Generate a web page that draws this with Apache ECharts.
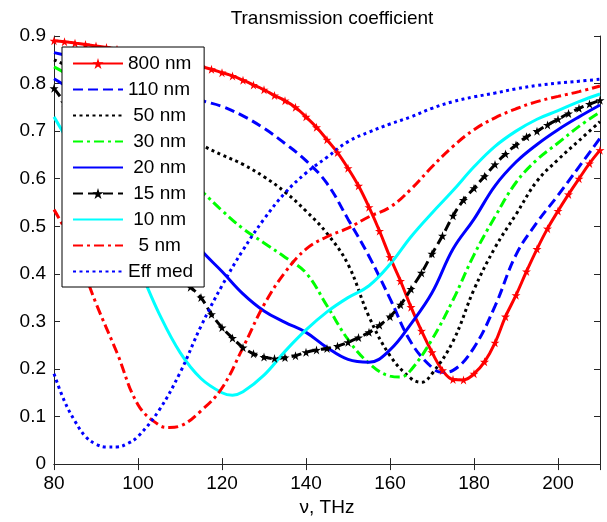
<!DOCTYPE html>
<html><head><meta charset="utf-8">
<script src="https://cdn.jsdelivr.net/npm/echarts@6/dist/echarts.min.js"></script>
<style>html,body{margin:0;padding:0;background:#fff}#c{width:607px;height:522px}</style>
</head><body><div id="c"></div>
<script>
// ---- data (frequency in THz, transmission coefficient) ----
const seriesNames = ['800 nm', '110 nm', ' 50 nm', ' 30 nm', ' 20 nm', ' 15 nm', ' 10 nm', '  5 nm', 'Eff med'];
const xTicks = [80, 100, 120, 140, 160, 180, 200];
const yTicks = [0, 0.1, 0.2, 0.3, 0.4, 0.5, 0.6, 0.7, 0.8, 0.9];

const nuFine = [80, 82.5, 85, 87.5, 90, 92.5, 95, 97.5, 100, 102.5, 105, 107.5, 110, 112.5, 115, 117.5, 120, 122.5, 125, 127.5,
  130, 132.5, 135, 137.5, 140, 142.5, 145, 147.5, 150, 152.5, 155, 157.5, 160, 162.5, 165, 167.5, 170, 172.5, 175, 177.5,
  180, 182.5, 185, 187.5, 190, 192.5, 195, 197.5, 200, 202.5, 205, 207.5, 210];
const nuCoarse = [80, 85, 90, 95, 100, 105, 110, 115, 120, 125, 130, 135, 140, 145, 150, 155, 160, 165, 170, 175, 180, 185, 190, 195, 200, 205, 210];

const t800 = [0.890, 0.888, 0.885, 0.882, 0.879, 0.876, 0.872, 0.868, 0.864, 0.860, 0.856, 0.851, 0.847, 0.842, 0.836, 0.830, 0.823, 0.816, 0.807, 0.797,
  0.787, 0.775, 0.764, 0.750, 0.730, 0.708, 0.682, 0.655, 0.622, 0.585, 0.540, 0.490, 0.435, 0.385, 0.330, 0.280, 0.235, 0.197, 0.178, 0.177,
  0.190, 0.215, 0.255, 0.310, 0.355, 0.405, 0.452, 0.495, 0.532, 0.567, 0.600, 0.632, 0.660];

const nu110 = [80, 85, 90, 95, 100, 105, 110, 115, 120, 125, 130, 135, 140, 145, 150, 155, 160, 165, 170, 172.5, 175, 180, 185, 190, 195, 200, 205, 210];
const t110 = [0.865, 0.855, 0.843, 0.830, 0.815, 0.800, 0.783, 0.765, 0.752, 0.732, 0.706, 0.674, 0.638, 0.590, 0.515, 0.437, 0.348, 0.256, 0.203, 0.193, 0.197, 0.245, 0.332, 0.440, 0.508, 0.565, 0.625, 0.685];

const nu50 = [80, 85, 90, 95, 100, 105, 110, 115, 120, 125, 130, 135, 140, 145, 150, 155, 160, 165, 167.5, 170, 175, 180, 185, 190, 195, 200, 205, 210];
const t50 = [0.850, 0.830, 0.808, 0.785, 0.760, 0.732, 0.702, 0.672, 0.650, 0.630, 0.604, 0.572, 0.532, 0.485, 0.420, 0.310, 0.228, 0.180, 0.172, 0.190, 0.258, 0.367, 0.455, 0.525, 0.595, 0.640, 0.680, 0.720];

const nu30 = [80, 85, 90, 95, 100, 105, 110, 115, 120, 125, 130, 135, 140, 145, 150, 155, 160, 162.5, 165, 170, 175, 180, 185, 190, 195, 200, 205, 210];
const t30 = [0.835, 0.810, 0.778, 0.742, 0.702, 0.658, 0.615, 0.575, 0.533, 0.495, 0.465, 0.435, 0.402, 0.333, 0.262, 0.212, 0.185, 0.183, 0.198, 0.262, 0.345, 0.440, 0.520, 0.592, 0.640, 0.675, 0.710, 0.740];

const t20 = [0.810, 0.780, 0.735, 0.680, 0.625, 0.565, 0.505, 0.450, 0.405, 0.358, 0.322, 0.298, 0.277, 0.245, 0.220, 0.214, 0.240, 0.295, 0.360, 0.452, 0.515, 0.585, 0.635, 0.672, 0.703, 0.730, 0.755];

const t15 = [0.790, 0.760, 0.725, 0.690, 0.650, 0.610, 0.570, 0.530, 0.495, 0.460, 0.430, 0.405, 0.390, 0.372, 0.350, 0.315, 0.287, 0.265, 0.245, 0.232,
  0.225, 0.222, 0.224, 0.228, 0.235, 0.240, 0.243, 0.248, 0.256, 0.266, 0.277, 0.292, 0.310, 0.335, 0.368, 0.402, 0.442, 0.480, 0.522, 0.555,
  0.580, 0.605, 0.630, 0.652, 0.671, 0.688, 0.700, 0.713, 0.725, 0.737, 0.748, 0.757, 0.765];

const nu10 = [80, 85, 90, 95, 100, 105, 110, 115, 120, 122.5, 125, 130, 135, 140, 145, 150, 155, 160, 165, 170, 175, 180, 185, 190, 195, 200, 205, 210];
const t10 = [0.730, 0.655, 0.578, 0.495, 0.415, 0.317, 0.235, 0.180, 0.150, 0.145, 0.152, 0.187, 0.237, 0.282, 0.320, 0.350, 0.375, 0.420, 0.478, 0.528, 0.575, 0.625, 0.668, 0.700, 0.725, 0.743, 0.762, 0.778];

const nu5 = [80, 85, 90, 95, 100, 105, 107.5, 110, 115, 120, 125, 130, 135, 140, 145, 150, 155, 160, 165, 170, 175, 180, 185, 190, 195, 200, 205, 210];
const t5 = [0.535, 0.452, 0.338, 0.234, 0.125, 0.082, 0.077, 0.080, 0.112, 0.160, 0.245, 0.335, 0.403, 0.452, 0.478, 0.496, 0.520, 0.540, 0.578, 0.625, 0.668, 0.703, 0.728, 0.747, 0.762, 0.773, 0.783, 0.795];

const nuEff = [80, 82.5, 85, 87.5, 90, 92.5, 95, 97.5, 100, 105, 110, 115, 120, 125, 130, 135, 140, 145, 150, 155, 160, 165, 170, 175, 180, 185, 190, 195, 200, 205, 210];
const tEff = [0.190, 0.132, 0.090, 0.058, 0.042, 0.036, 0.036, 0.043, 0.058, 0.113, 0.192, 0.290, 0.375, 0.450, 0.515, 0.570, 0.612, 0.645, 0.678, 0.698, 0.715, 0.730, 0.748, 0.762, 0.772, 0.780, 0.789, 0.796, 0.801, 0.805, 0.809];

const hasMarker = [true, false, false, false, false, true, false, false, false];

// ---- chart ----
const FONT = 'Liberation Sans, Arial, sans-serif';
const pairs = (xs, ys) => xs.map((x, i) => [x, ys[i]]);
const STAR = 'path://M0,-1L0.22,-0.3L0.95,-0.31L0.36,0.12L0.59,0.81L0,0.38L-0.59,0.81L-0.36,0.12L-0.95,-0.31L-0.22,-0.3Z';

function mk(idx, xs, ys, color, type) {
  const marker = hasMarker[idx];
  return {
    name: seriesNames[idx], type: 'line', data: pairs(xs, ys), smooth: 0.4,
    symbol: marker ? STAR : 'none', symbolSize: 9, showSymbol: marker,
    itemStyle: { color: color },
    lineStyle: { color: color, width: 3, type: type },
    emphasis: { disabled: true }, animation: false
  };
}
const DASH = [10, 5], DOT = [3, 3.5], DASHDOT = [10, 4, 3, 4];

const chart = echarts.init(document.getElementById('c'), null, { renderer: 'canvas' });
const axisLineStyle = { color: '#262626', width: 1 };
chart.setOption({
  backgroundColor: '#ffffff',
  animation: false,
  title: {
    text: 'Transmission coefficient', left: 327, top: 4, textAlign: 'center',
    textStyle: { fontFamily: FONT, fontSize: 19, fontWeight: 'normal', color: '#000' }
  },
  grid: { left: 54, right: 7, top: 36, bottom: 52, containLabel: false },
  legend: {
    orient: 'vertical', left: 62, top: 47,
    data: seriesNames.map((n, i) => hasMarker[i] ? { name: n } : { name: n, itemStyle: { opacity: 0 } }),
    itemWidth: 50, itemHeight: 14, itemGap: 7,
    padding: [7, 11, 6, 10],
    backgroundColor: '#ffffff', borderColor: '#000', borderWidth: 1, borderRadius: 0,
    textStyle: { fontFamily: FONT, fontSize: 19, color: '#000' },
    selectedMode: false
  },
  xAxis: [{
    type: 'value', min: xTicks[0], max: 210, interval: 20,
    name: 'ν, THz', nameLocation: 'middle', nameGap: 32,
    nameTextStyle: { fontFamily: FONT, fontSize: 19, color: '#000' },
    axisLine: { show: true, lineStyle: axisLineStyle },
    axisTick: { show: true, inside: true, length: 6, lineStyle: axisLineStyle },
    axisLabel: { fontFamily: FONT, fontSize: 19, color: '#000', margin: 10, showMaxLabel: false },
    splitLine: { show: false }
  }, {
    type: 'value', position: 'top', min: xTicks[0], max: 210, interval: 20,
    axisLine: { show: true, lineStyle: axisLineStyle },
    axisTick: { show: true, inside: true, length: 6, lineStyle: axisLineStyle },
    axisLabel: { show: false }, splitLine: { show: false }
  }],
  yAxis: [{
    type: 'value', min: yTicks[0], max: 0.9, interval: 0.1,
    axisLine: { show: true, lineStyle: axisLineStyle },
    axisTick: { show: true, inside: true, length: 6, lineStyle: axisLineStyle },
    axisLabel: { fontFamily: FONT, fontSize: 19, color: '#000', margin: 8 },
    splitLine: { show: false }
  }, {
    type: 'value', position: 'right', min: yTicks[0], max: 0.9, interval: 0.1,
    axisLine: { show: true, lineStyle: axisLineStyle },
    axisTick: { show: true, inside: true, length: 6, lineStyle: axisLineStyle },
    axisLabel: { show: false }, splitLine: { show: false }
  }],
  series: [
    mk(0, nuFine, t800, '#ff0000', 'solid'),
    mk(1, nu110, t110, '#0000ff', DASH),
    mk(2, nu50, t50, '#000000', DOT),
    mk(3, nu30, t30, '#00ff00', DASHDOT),
    mk(4, nuCoarse, t20, '#0000ff', 'solid'),
    mk(5, nuFine, t15, '#000000', DASH),
    mk(6, nu10, t10, '#00ffff', 'solid'),
    mk(7, nu5, t5, '#ff0000', DASHDOT),
    mk(8, nuEff, tEff, '#0000ff', DOT)
  ]
});
</script>
</body></html>
